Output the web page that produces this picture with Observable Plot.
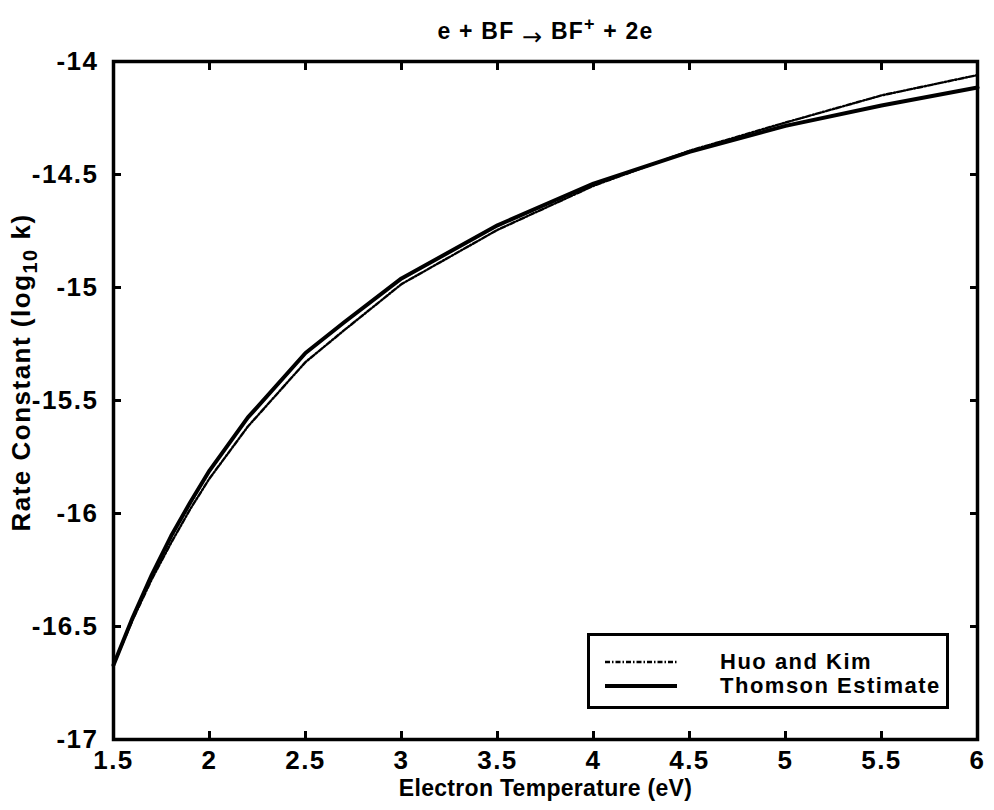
<!DOCTYPE html>
<html><head><meta charset="utf-8">
<script src="https://cdn.jsdelivr.net/npm/d3@7"></script>
<script src="https://cdn.jsdelivr.net/npm/@observablehq/plot@0.6"></script>
<style>
body{margin:0;background:#fff;}
#wrap{position:relative;width:994px;height:810px;font-family:"Liberation Sans",Arial,sans-serif;font-weight:bold;}
#wrap svg text{letter-spacing:1.5px;}
#wrap svg text.lbl{letter-spacing:0.3px;}
#wrap svg text.ttl{letter-spacing:1.2px;}
.legend{position:absolute;left:587px;top:633px;width:362px;height:76px;box-sizing:border-box;border:3px solid #000;background:#fff;}
.legend svg{position:absolute;left:0;top:0;}
.legend .lab{position:absolute;left:130px;font-size:22px;letter-spacing:1.5px;line-height:22px;height:22px;color:#000;font-weight:bold;}
</style></head><body><div id="wrap"></div>
<script>
const temperature = [1.5, 1.6, 1.7, 1.8, 1.9, 2.0, 2.2, 2.5, 2.7, 3.0, 3.5, 4.0, 4.5, 5.0, 5.5, 6.0];
const huoKim      = [-16.67, -16.47, -16.29, -16.13, -15.98, -15.845, -15.615, -15.33, -15.19, -14.985, -14.745, -14.55, -14.395, -14.27, -14.15, -14.06];
const thomson     = [-16.67, -16.46, -16.27, -16.10, -15.95, -15.81, -15.575, -15.29, -15.155, -14.96, -14.725, -14.54, -14.40, -14.285, -14.195, -14.115];
const xTicks = [1.5, 2, 2.5, 3, 3.5, 4, 4.5, 5, 5.5, 6];
const yTicks = [-17, -16.5, -16, -15.5, -15, -14.5, -14];
const seriesNames = ["Huo and Kim", "Thomson Estimate"];
const titleText = "e + BF → BF+ + 2e";
const xLabel = "Electron Temperature (eV)";
const yLabel = "Rate Constant (log10 k)";

const fmt = d => String(d);
const chart = Plot.plot({
  width: 994, height: 810,
  marginLeft: 113, marginRight: 17, marginTop: 61, marginBottom: 71,
  style: {fontFamily: '"Liberation Sans", Arial, sans-serif', fontSize: "26px", fontWeight: "bold", color: "#000", background: "#fff"},
  x: {domain: [1.5, 6]},
  y: {domain: [-17, -14]},
  marks: [
    Plot.axisX({ticks: xTicks, tickSize: 0, tickPadding: 11, tickFormat: fmt, label: null, fontSize: 26}),
    Plot.axisY({ticks: yTicks, tickSize: 0, tickPadding: 15, tickFormat: fmt, label: null, fontSize: 26}),
    Plot.axisX({ticks: xTicks, anchor: "bottom", tickSize: -8, strokeWidth: 3, tickFormat: () => "", label: null}),
    Plot.axisX({ticks: xTicks, anchor: "top", tickSize: -8, strokeWidth: 3, tickFormat: () => "", label: null}),
    Plot.axisY({ticks: yTicks, anchor: "left", tickSize: -8, strokeWidth: 3, tickFormat: () => "", label: null}),
    Plot.axisY({ticks: yTicks, anchor: "right", tickSize: -8, strokeWidth: 3, tickFormat: () => "", label: null}),
    Plot.line(temperature, {x: d => d, y: (d, i) => huoKim[i], stroke: "#000", strokeWidth: 2.4, strokeDasharray: "5,2,1.5,2"}),
    Plot.line(temperature, {x: d => d, y: (d, i) => thomson[i], stroke: "#000", strokeWidth: 4}),
    Plot.frame({stroke: "#000", strokeWidth: 3.5}),
    Plot.text([titleText], {frameAnchor: "top", dy: -39, text: d => d, fontSize: 23}),
    Plot.text([xLabel], {frameAnchor: "bottom", dy: 56, text: d => d, fontSize: 23}),
    Plot.text([yLabel], {frameAnchor: "left", textAnchor: "middle", dx: -92, dy: -28, rotate: -90, text: d => d, fontSize: 26})
  ]
});
document.getElementById("wrap").appendChild(chart);

// rich text: super/subscripts
d3.select(chart).selectAll("text").each(function() {
  const el = d3.select(this);
  const t = this.textContent;
  if (t === titleText) {
    el.text(null).attr("class", "ttl");
    el.append("tspan").text("e + BF ");
    el.append("tspan").attr("dy", 6).attr("font-family", "DejaVu Sans").attr("font-weight", "normal").attr("font-size", 24).text("→");
    el.append("tspan").attr("dy", -6).text(" BF");
    el.append("tspan").attr("dy", -9).attr("font-size", 18).text("+");
    el.append("tspan").attr("dy", 9).text(" + 2e");
  } else if (t === yLabel) {
    el.text(null);
    el.append("tspan").text("Rate Constant (log");
    el.append("tspan").attr("dy", 7).attr("font-size", 20).text("10");
    el.append("tspan").attr("dy", -7).text(" k)");
  } else if (t === xLabel) {
    el.attr("class", "lbl");
  }
});

// legend
const leg = document.createElement("div");
leg.className = "legend";
leg.innerHTML = `<svg width="356" height="70">
  <line x1="15" x2="87" y1="26" y2="26" stroke="#000" stroke-width="2.4" stroke-dasharray="5,2,1.5,2"/>
  <line x1="15" x2="87" y1="50" y2="50" stroke="#000" stroke-width="4"/>
</svg>
<div class="lab" style="top:15px">${seriesNames[0]}</div>
<div class="lab" style="top:39px">${seriesNames[1]}</div>`;
document.getElementById("wrap").appendChild(leg);
</script>
</body></html>
